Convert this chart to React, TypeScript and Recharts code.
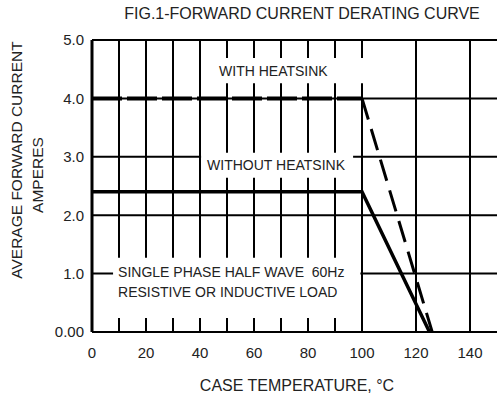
import React from 'react';
import { LineChart, Line, XAxis, YAxis, CartesianGrid, ReferenceArea } from 'recharts';

// case temperature (°C) vs average forward current (A)
const withHeatsinkTemp = [0, 100, 126];
const withHeatsinkAmps = [4.0, 4.0, 0];
const withoutHeatsinkTemp = [0, 100, 125];
const withoutHeatsinkAmps = [2.4, 2.4, 0];

const xTicks = [0, 20, 40, 60, 80, 100, 120, 140];
const yTicks = [0, 1, 2, 3, 4, 5];
const gridTemps = [10, 20, 30, 40, 50, 60, 70, 80, 90, 100, 110, 120, 130, 140];
const gridAmps = [1, 2, 3, 4, 5];

const toRows = (t: number[], a: number[]) => t.map((temp, i) => ({ temp, amps: a[i] }));
const withRows = toRows(withHeatsinkTemp, withHeatsinkAmps);
const withoutRows = toRows(withoutHeatsinkTemp, withoutHeatsinkAmps);

const FONT = '"Liberation Sans", Arial, sans-serif';
const INK = '#222';

const NoteLabel = (props: any) => {
  const { x, y } = props.viewBox;
  return (
    <text x={x + 5} y={y + 14} fill={INK} fontSize={14} fontFamily={FONT}>
      <tspan x={x + 5} dy="0.35em">{'SINGLE PHASE HALF WAVE \u00a060Hz'}</tspan>
      <tspan x={x + 5} dy="20">RESISTIVE OR INDUCTIVE LOAD</tspan>
    </text>
  );
};

export default function App() {
  return (
    <div style={{ position: 'absolute', left: 0, top: 0, width: 497, height: 400, background: '#fff', fontFamily: FONT, color: INK }}>
      <div style={{ position: 'absolute', left: 302, top: 14, transform: 'translate(-50%, -50%)', fontSize: 16, whiteSpace: 'nowrap', lineHeight: 1 }}>
        FIG.1-FORWARD CURRENT DERATING CURVE
      </div>
      <div style={{ position: 'absolute', left: 17, top: 160, transform: 'translate(-50%, -50%) rotate(-90deg)', fontSize: 15.5, whiteSpace: 'nowrap', lineHeight: 1 }}>
        AVERAGE FORWARD CURRENT
      </div>
      <div style={{ position: 'absolute', left: 38, top: 175, transform: 'translate(-50%, -50%) rotate(-90deg)', fontSize: 15.5, whiteSpace: 'nowrap', lineHeight: 1 }}>
        AMPERES
      </div>
      <div style={{ position: 'absolute', left: 297, top: 386, transform: 'translate(-50%, -50%)', fontSize: 16, whiteSpace: 'nowrap', lineHeight: 1 }}>
        CASE TEMPERATURE, °C
      </div>
      <LineChart width={497} height={400} margin={{ top: 40, right: 0, bottom: 0, left: 0 }} style={{ position: 'absolute', left: 0, top: 0 }}>
        <CartesianGrid
          verticalValues={gridTemps}
          horizontalValues={gridAmps}
          stroke="#000"
          strokeWidth={2}
          strokeOpacity={1}
        />
        <XAxis
          dataKey="temp"
          type="number"
          domain={[0, 150]}
          ticks={xTicks}
          allowDataOverflow
          height={68}
          tickLine={false}
          tickMargin={9}
          axisLine={{ stroke: '#000', strokeWidth: 2 }}
          tick={{ fill: INK, fontSize: 15, fontFamily: FONT }}
        />
        <YAxis
          type="number"
          domain={[0, 5]}
          ticks={yTicks}
          width={92}
          tickLine={false}
          axisLine={{ stroke: '#000', strokeWidth: 3 }}
          tickFormatter={(v: number) => (v === 0 ? '0.00' : v.toFixed(1))}
          tick={{ fill: INK, fontSize: 15, fontFamily: FONT }}
        />
        <ReferenceArea
          x1={41.5} x2={101.5} y1={4.26} y2={4.69}
          fill="#fff" fillOpacity={1} stroke="none"
          label={{ value: 'WITH HEATSINK', position: 'insideLeft', offset: 15, fill: INK, fontSize: 14, fontFamily: FONT }}
        />
        <ReferenceArea
          x1={40.4} x2={96.7} y1={2.64} y2={3.07}
          fill="#fff" fillOpacity={1} stroke="none"
          label={{ value: 'WITHOUT HEATSINK', position: 'insideLeft', offset: 6, fill: INK, fontSize: 14, fontFamily: FONT }}
        />
        <ReferenceArea
          x1={7.8} x2={99.4} y1={0.24} y2={1.27}
          fill="#fff" fillOpacity={1} stroke="none"
          label={<NoteLabel />}
        />
        <Line data={withRows.slice(0, 2)} dataKey="amps" stroke="#000" strokeWidth={4} strokeDasharray="30 5" dot={false} activeDot={false} isAnimationActive={false} />
        <Line data={withRows.slice(1)} dataKey="amps" stroke="#000" strokeWidth={3} strokeDasharray="22 10" dot={false} activeDot={false} isAnimationActive={false} />
        <Line data={withoutRows} dataKey="amps" stroke="#000" strokeWidth={3.5} dot={false} activeDot={false} isAnimationActive={false} />
      </LineChart>
    </div>
  );
}
